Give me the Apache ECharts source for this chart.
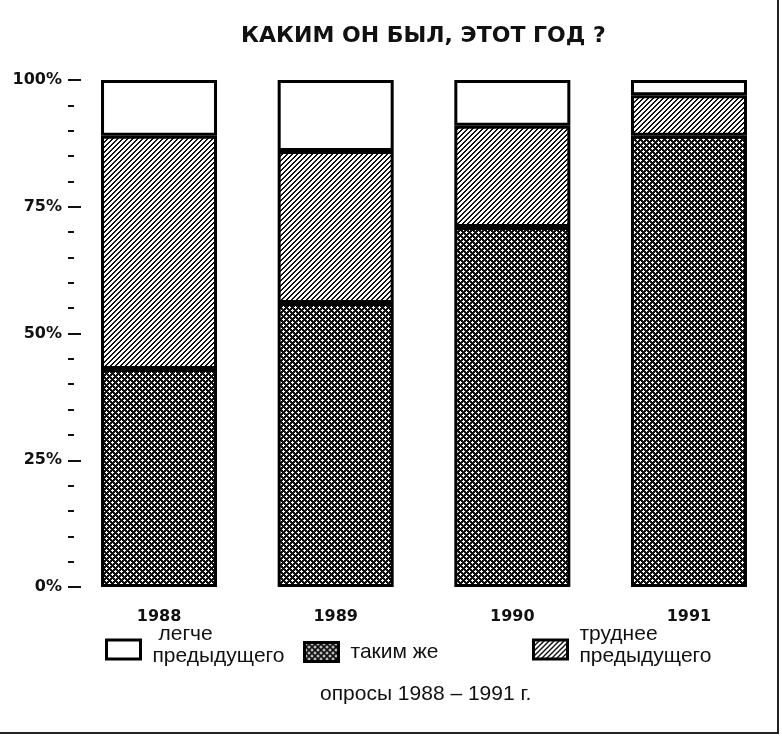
<!DOCTYPE html>
<html><head><meta charset="utf-8">
<script src="https://cdn.jsdelivr.net/npm/echarts@6/dist/echarts.min.js"></script>
<style>html,body{margin:0;padding:0;background:#fff}#c{width:782px;height:741px}</style>
</head><body><div id="c"></div>
<script>
// ---- data ----
const categories = ['1988', '1989', '1990', '1991'];
const sameValues = [43, 56, 71, 89];      // таким же
const harderValues = [46, 30, 20, 8];     // труднее предыдущего
const easierValues = [11, 14, 9, 3];      // легче предыдущего
const seriesNames = ['легче предыдущего', 'таким же', 'труднее предыдущего'];
const titleText = 'КАКИМ ОН БЫЛ, ЭТОТ ГОД ?';
const footnoteText = 'опросы 1988 – 1991 г.';

// ---- patterns ----
function crossPattern() {
  const c = document.createElement('canvas'); c.width = 6; c.height = 6;
  const g = c.getContext('2d');
  g.fillStyle = '#111'; g.fillRect(0, 0, 6, 6);
  g.fillStyle = '#fff';
  [[1, 1], [4, 4]].forEach(p => {
    g.fillRect(p[0], p[1] - 1, 1, 3);
    g.fillRect(p[0] - 1, p[1], 3, 1);
  });
  return c;
}
function diagPattern() {
  const c = document.createElement('canvas'); c.width = 5; c.height = 5;
  const g = c.getContext('2d');
  g.fillStyle = '#fff'; g.fillRect(0, 0, 5, 5);
  g.fillStyle = '#111';
  for (let x = 0; x < 5; x++) for (let y = 0; y < 5; y++) if ((x + y) % 5 < 2) g.fillRect(x, y, 1, 1);
  return c;
}
const crossFill = { image: crossPattern(), repeat: 'repeat' };
const diagFill = { image: diagPattern(), repeat: 'repeat' };

const chart = echarts.init(document.getElementById('c'), null, { renderer: 'canvas' });
const border = { borderColor: '#000', borderWidth: 3 };
const FF = 'Liberation Sans, Arial, sans-serif';
const legendText = {
  fontFamily: FF, fontSize: 21, color: '#111', padding: [0, 0, 0, 7],
  rich: {
    a: { fontFamily: FF, fontSize: 21, lineHeight: 22, color: '#111' },
    i: { fontFamily: FF, fontSize: 21, lineHeight: 22, color: '#111', padding: [0, 0, 0, 6] },
    b: { fontFamily: FF, fontSize: 21, lineHeight: 22, color: '#111' },
    c: { fontFamily: FF, fontSize: 6, lineHeight: 8, color: '#111' }
  }
};
function legendItem(name, left, top, fmt) {
  return {
    data: [name], left: left, top: top, padding: 0, icon: 'rect',
    itemWidth: 34, itemHeight: 19, selectedMode: false,
    itemStyle: border, formatter: fmt, textStyle: legendText
  };
}

chart.setOption({
  animation: false,
  backgroundColor: '#fff',
  title: {
    text: titleText, left: 236, top: 20,
    textStyle: { fontFamily: 'DejaVu Sans, sans-serif', fontWeight: 'bold', fontSize: 22, color: '#111' }
  },
  legend: [
    legendItem(seriesNames[0], 105, 624, () => '{i|легче}\n{b|предыдущего}\n{c| }'),
    legendItem(seriesNames[1], 303, 641, () => 'таким же'),
    legendItem(seriesNames[2], 532, 624, () => '{a|труднее}\n{b|предыдущего}\n{c| }')
  ],
  grid: { left: 70.7, right: 4.7, top: 80, bottom: 154 },
  xAxis: {
    type: 'category', data: categories,
    axisLine: { show: false }, axisTick: { show: false },
    axisLabel: { margin: 22, fontFamily: 'DejaVu Sans, sans-serif', fontWeight: 'bold', fontSize: 16, color: '#111' }
  },
  yAxis: {
    type: 'value', min: 0, max: 100, interval: 25, offset: 2.7,
    axisLine: { show: false },
    axisTick: { show: true, inside: true, length: 13, lineStyle: { color: '#111', width: 2 } },
    minorTick: { show: true, splitNumber: 5, length: 6, lineStyle: { color: '#111', width: 2 } },
    splitLine: { show: false },
    axisLabel: { margin: 6, formatter: '{value}%', fontFamily: 'DejaVu Sans, sans-serif', fontWeight: 'bold', fontSize: 16, color: '#111' }
  },
  series: [
    { name: seriesNames[1], type: 'bar', stack: 't', barWidth: 116, data: sameValues, itemStyle: Object.assign({ color: crossFill }, border) },
    { name: seriesNames[2], type: 'bar', stack: 't', barWidth: 116, data: harderValues, itemStyle: Object.assign({ color: diagFill }, border) },
    { name: seriesNames[0], type: 'bar', stack: 't', barWidth: 116, data: easierValues, itemStyle: Object.assign({ color: '#fff' }, border) }
  ],
  graphic: [
    { type: 'text', left: 320, top: 684, style: { text: footnoteText, fontFamily: FF, fontSize: 21, fill: '#111' } },
    { type: 'line', shape: { x1: 778, y1: 0, x2: 778, y2: 733 }, style: { stroke: '#222', lineWidth: 2 } },
    { type: 'line', shape: { x1: 0, y1: 733, x2: 779, y2: 733 }, style: { stroke: '#222', lineWidth: 2 } }
  ]
});
</script></body></html>
